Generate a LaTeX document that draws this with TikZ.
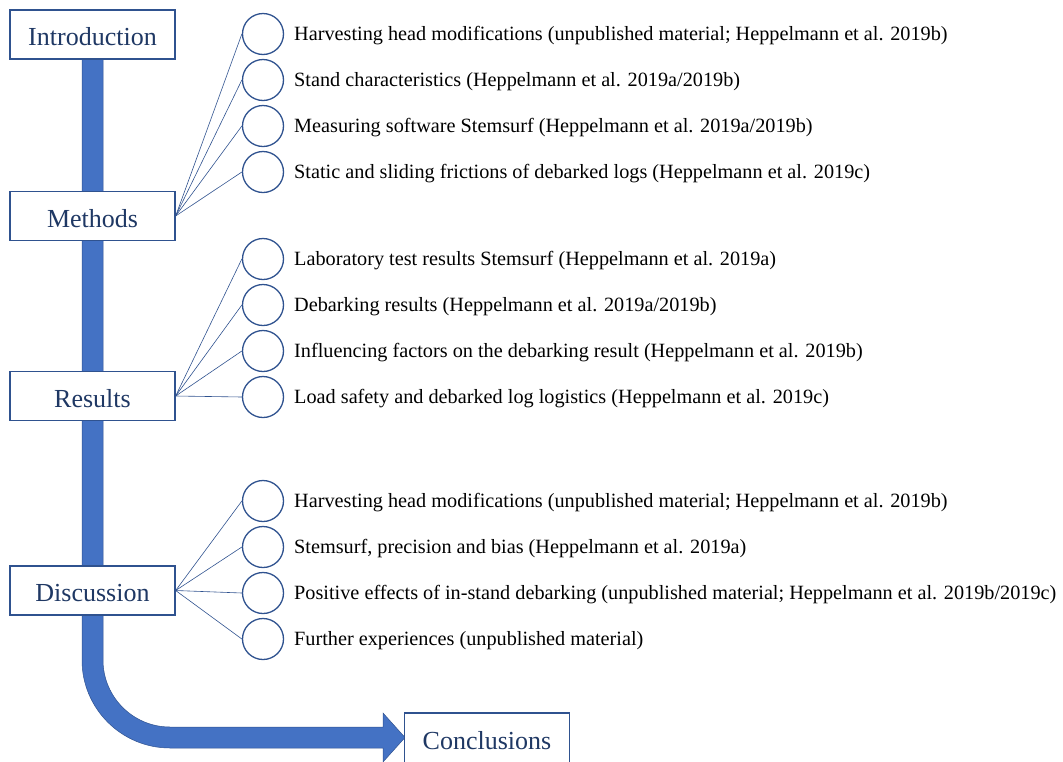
\documentclass[tikz,border=0pt]{standalone}
\usepackage{fontspec}
\setmainfont{Liberation Serif}
\definecolor{barblue}{HTML}{4472C4}
\definecolor{edgeblue}{HTML}{2F528F}
\definecolor{navy}{HTML}{1F3864}
\tikzset{
  secbox/.style={draw=edgeblue, line width=1.3pt, fill=white, minimum width=165pt, minimum height=49pt, inner sep=0pt, text=navy, font=\fontsize{26}{30}\selectfont, text height=22pt, text depth=0pt},
  dot/.style={circle, draw=edgeblue, line width=1.3pt, fill=white, minimum size=41pt, inner sep=0pt},
  item/.style={anchor=west, inner sep=0pt, font=\fontsize{20.25}{24}\selectfont, text=black},
  link/.style={draw=edgeblue, line width=0.6pt}
}
\begin{document}
\begin{tikzpicture}[x=1pt,y=-1pt]
\useasboundingbox (0,0) rectangle (1063,761);
\clip (0,0) rectangle (1063,761);
% flow bar
\fill[barblue, draw=edgeblue, line width=0.5pt] (82,40) -- (82,660)
  .. controls (82,708.6) and (121.4,748) .. (170,748)
  -- (383,748) -- (383,762) -- (405,737.5) -- (383,713) -- (383,727) -- (170,727)
  .. controls (133,727) and (103,697) .. (103,660) -- (103,40) -- cycle;
% section boxes
\node[secbox] (intro) at (92.5,34.5) {Introduction};
\node[secbox] (meth) at (92.5,216) {Methods};
\node[secbox] (res) at (92.5,396) {Results};
\node[secbox] (disc) at (92.5,590.5) {Discussion};
\node[secbox, minimum height=50pt] (concl) at (487,738) {Conclusions};
% methods items
\foreach \i/\y/\t in {1/34/{Harvesting head modifications (unpublished material; Heppelmann et al. 2019b)},
  2/80/{Stand characteristics (Heppelmann et al. 2019a/2019b)},
  3/126/{Measuring software Stemsurf (Heppelmann et al. 2019a/2019b)},
  4/172/{Static and sliding frictions of debarked logs (Heppelmann et al. 2019c)}}{
  \node[dot] (m\i) at (263,\y) {};
  \node[item] (mt\i) at (294,\y+2) {\t};
  \draw[link] (meth.east) -- (m\i.west);
}
% results items
\foreach \i/\y/\t in {1/259/{Laboratory test results Stemsurf (Heppelmann et al. 2019a)},
  2/305/{Debarking results (Heppelmann et al. 2019a/2019b)},
  3/351/{Influencing factors on the debarking result (Heppelmann et al. 2019b)},
  4/397/{Load safety and debarked log logistics (Heppelmann et al. 2019c)}}{
  \node[dot] (r\i) at (263,\y) {};
  \node[item] (rt\i) at (294,\y+2) {\t};
  \draw[link] (res.east) -- (r\i.west);
}
% discussion items
\foreach \i/\y/\t in {1/501/{Harvesting head modifications (unpublished material; Heppelmann et al. 2019b)},
  2/547/{Stemsurf, precision and bias (Heppelmann et al. 2019a)},
  3/593/{Positive effects of in-stand debarking (unpublished material; Heppelmann et al. 2019b/2019c)},
  4/639/{Further experiences (unpublished material)}}{
  \node[dot] (d\i) at (263,\y) {};
  \node[item] (dt\i) at (294,\y+2) {\t};
  \draw[link] (disc.east) -- (d\i.west);
}
\end{tikzpicture}
\end{document}
